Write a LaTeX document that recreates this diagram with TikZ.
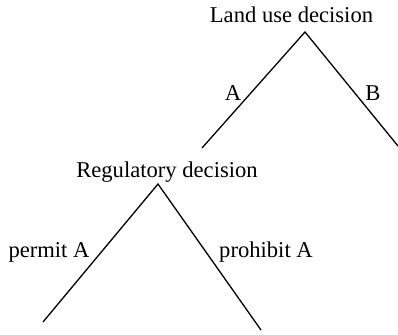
\documentclass[tikz,border=0pt]{standalone}
\usepackage{fontspec}
\setmainfont{Liberation Serif}
\begin{document}
\begin{tikzpicture}[x=0.5pt,y=-0.5pt,
  lbl/.style={inner sep=0pt,anchor=base,font=\fontsize{11.3pt}{13pt}\selectfont},
  branch/.style={line width=0.65pt}]
\useasboundingbox (0,0) rectangle (398,334);
% top decision
\node[lbl] (land) at (291.5,22) {Land use decision};
\coordinate (t) at (305,32);
\coordinate (tl) at (202,148);
\coordinate (tr) at (398,146);
\draw[branch] (tl) -- (t) -- (tr);
\node[lbl] (a) at (233,100) {A};
\node[lbl] (b) at (373,100) {B};
% regulatory decision
\node[lbl] (reg) at (167,177) {Regulatory decision};
\coordinate (r) at (158,184);
\coordinate (rl) at (43,322);
\coordinate (rr) at (261,330);
\draw[branch] (rl) -- (r) -- (rr);
\node[lbl] (pa) at (49,257) {permit A};
\node[lbl] (pr) at (266,257) {prohibit A};
\end{tikzpicture}
\end{document}
